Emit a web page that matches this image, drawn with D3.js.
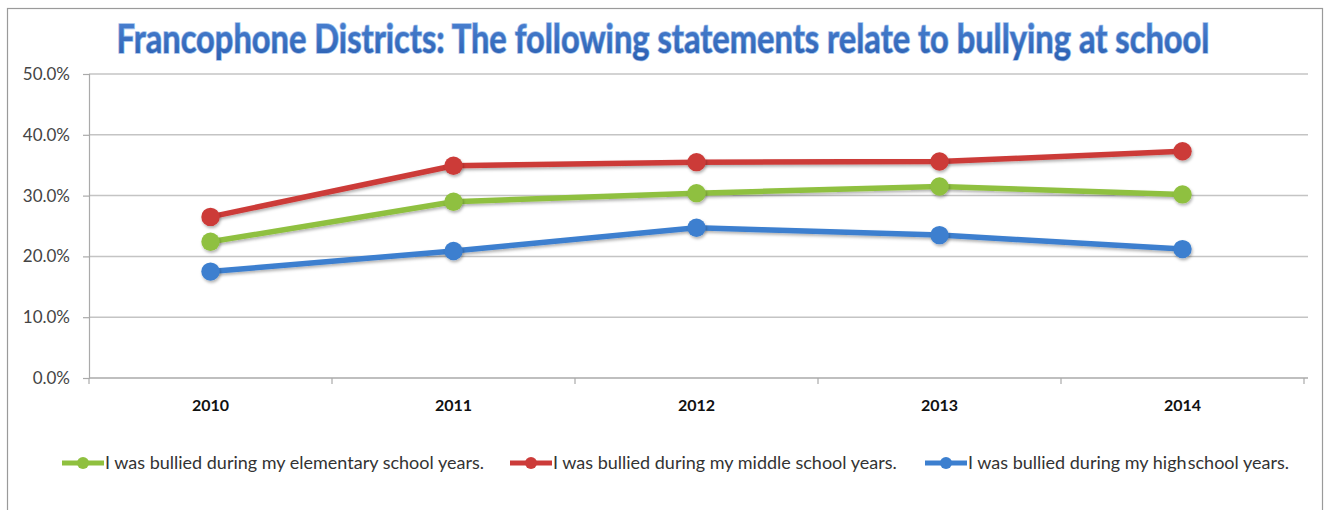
<!DOCTYPE html>
<html>
<head>
<meta charset="utf-8">
<script src="https://cdn.jsdelivr.net/npm/d3@7"></script>
<style>
  body { margin: 0; background: #fff; }
  svg { display: block; font-family: Lato, "Open Sans", sans-serif; }
</style>
</head>
<body>
<div id="chart"></div>
<script>
// Data
var years = ["2010", "2011", "2012", "2013", "2014"];
var elementary = [22.4, 29.0, 30.4, 31.5, 30.2];
var middle = [26.5, 34.9, 35.5, 35.6, 37.3];
var high = [17.5, 20.9, 24.7, 23.5, 21.2];
var yTicks = [0, 10, 20, 30, 40, 50];
var seriesNames = [
  "I was bullied during my elementary school years.",
  "I was bullied during my middle school years.",
  "I was bullied during my high\u200Aschool years."
];
var seriesColors = ["#8fc03f", "#cc3b39", "#3c7fcf"];

var series = [elementary, middle, high].map(function(vals, i) {
  return { name: seriesNames[i], color: seriesColors[i], values: vals };
});

var width = 1333, height = 510;
var plotLeft = 89, plotRight = 1304, plotTop = 74, plotBottom = 378;

var svg = d3.select("#chart")
  .append("svg")
  .attr("width", width)
  .attr("height", height);

var defs = svg.append("defs");
var shadow = defs.append("filter").attr("id", "shadow")
  .attr("x", "-50%").attr("y", "-50%").attr("width", "200%").attr("height", "200%");
shadow.append("feDropShadow")
  .attr("dx", 1).attr("dy", 2).attr("stdDeviation", 1.8)
  .attr("flood-color", "#000").attr("flood-opacity", 0.3);

var titleGrad = defs.append("linearGradient").attr("id", "titleGrad")
  .attr("x1", 0).attr("y1", 0).attr("x2", 0).attr("y2", 1);
titleGrad.append("stop").attr("offset", "0%").attr("stop-color", "#4f86d6");
titleGrad.append("stop").attr("offset", "100%").attr("stop-color", "#2a5fb0");

// Chart frame
svg.append("rect")
  .attr("x", 7.5).attr("y", 8.5)
  .attr("width", 1315).attr("height", 520)
  .attr("fill", "#fff")
  .attr("stroke", "#9a9a9a")
  .attr("stroke-width", 1.2);

// Scales
var x = d3.scaleBand().domain(years).range([plotLeft, plotRight]);
var y = d3.scaleLinear().domain([0, 50]).range([plotBottom, plotTop]);

// Gridlines
svg.append("g")
  .selectAll("line")
  .data(yTicks.slice(1))
  .join("line")
  .attr("x1", plotLeft).attr("x2", 1308)
  .attr("y1", d => y(d)).attr("y2", d => y(d))
  .attr("stroke", "#c4c4c4")
  .attr("stroke-width", 1.5);

// Y axis
var yAxis = svg.append("g")
  .attr("transform", "translate(" + plotLeft + ",0)")
  .call(d3.axisLeft(y).tickValues(yTicks).tickSize(6).tickFormat(d => d.toFixed(1) + "%"));
yAxis.select(".domain").attr("stroke", "#aaa").attr("stroke-width", 1.2);
yAxis.selectAll(".tick line").attr("stroke", "#aaa").attr("stroke-width", 1.2);
yAxis.selectAll(".tick text")
  .attr("x", -19)
  .attr("fill", "#444")
  .style("font-size", "17px")
  .style("font-family", "Lato, sans-serif");

// X axis with ticks at band edges
var xAxis = svg.append("g")
  .attr("transform", "translate(0," + plotBottom + ")");
xAxis.append("line")
  .attr("x1", plotLeft).attr("x2", 1308)
  .attr("stroke", "#aaa").attr("stroke-width", 1.5);
xAxis.selectAll(".edge")
  .data(years.concat(["end"]))
  .join("line")
  .attr("class", "edge")
  .attr("x1", (d, i) => plotLeft + i * x.bandwidth())
  .attr("x2", (d, i) => plotLeft + i * x.bandwidth())
  .attr("y1", 0).attr("y2", 6)
  .attr("stroke", "#aaa").attr("stroke-width", 1.2);
xAxis.selectAll(".yr")
  .data(years)
  .join("text")
  .attr("class", "yr")
  .attr("x", d => x(d) + x.bandwidth() / 2)
  .attr("y", 33)
  .attr("text-anchor", "middle")
  .attr("fill", "#111")
  .style("font-size", "16px")
  .style("font-weight", "bold")
  .text(d => d);

// Lines and markers
var line = d3.line()
  .x((d, i) => x(years[i]) + x.bandwidth() / 2)
  .y(d => y(d));

var sg = svg.append("g").selectAll("g")
  .data(series)
  .join("g");

sg.append("path")
  .attr("d", d => line(d.values))
  .attr("fill", "none")
  .attr("stroke", d => d.color)
  .attr("stroke-width", 5.5)
  .attr("stroke-linejoin", "round")
  .attr("filter", "url(#shadow)");

sg.each(function(s) {
  d3.select(this).selectAll("circle")
    .data(s.values)
    .join("circle")
    .attr("cx", (d, i) => x(years[i]) + x.bandwidth() / 2)
    .attr("cy", d => y(d))
    .attr("r", 9.2)
    .attr("fill", s.color)
    .attr("filter", "url(#shadow)");
});

// Title (stretched vertically to mimic the condensed bold face)
var title = svg.append("text")
  .attr("x", 0)
  .attr("y", 0)
  .attr("text-anchor", "middle")
  .attr("transform", "translate(663,53) scale(1,1.2)")
  .attr("fill", "url(#titleGrad)")
  .attr("stroke", "#9dbdea")
  .attr("stroke-width", 1.4)
  .attr("paint-order", "stroke")
  .style("font-weight", "bold")
  .style("font-size", "100px")
  .text("Francophone Districts: The following statements relate to bullying at school");
var tw = title.node().getComputedTextLength();
title.style("font-size", (100 * 1093 / tw) + "px");

// Legend
var legendX = [62, 510, 925];
var lg = svg.append("g").selectAll("g")
  .data(series)
  .join("g")
  .attr("transform", (d, i) => "translate(" + legendX[i] + ",463)");
lg.append("line")
  .attr("x1", 0).attr("x2", 42)
  .attr("stroke", d => d.color)
  .attr("stroke-width", 5);
lg.append("circle")
  .attr("cx", 21).attr("r", 6)
  .attr("fill", d => d.color);
lg.append("text")
  .attr("x", 43)
  .attr("y", 6)
  .attr("fill", "#333")
  .style("font-size", "18px")
  .text(d => d.name);
</script>
</body>
</html>
